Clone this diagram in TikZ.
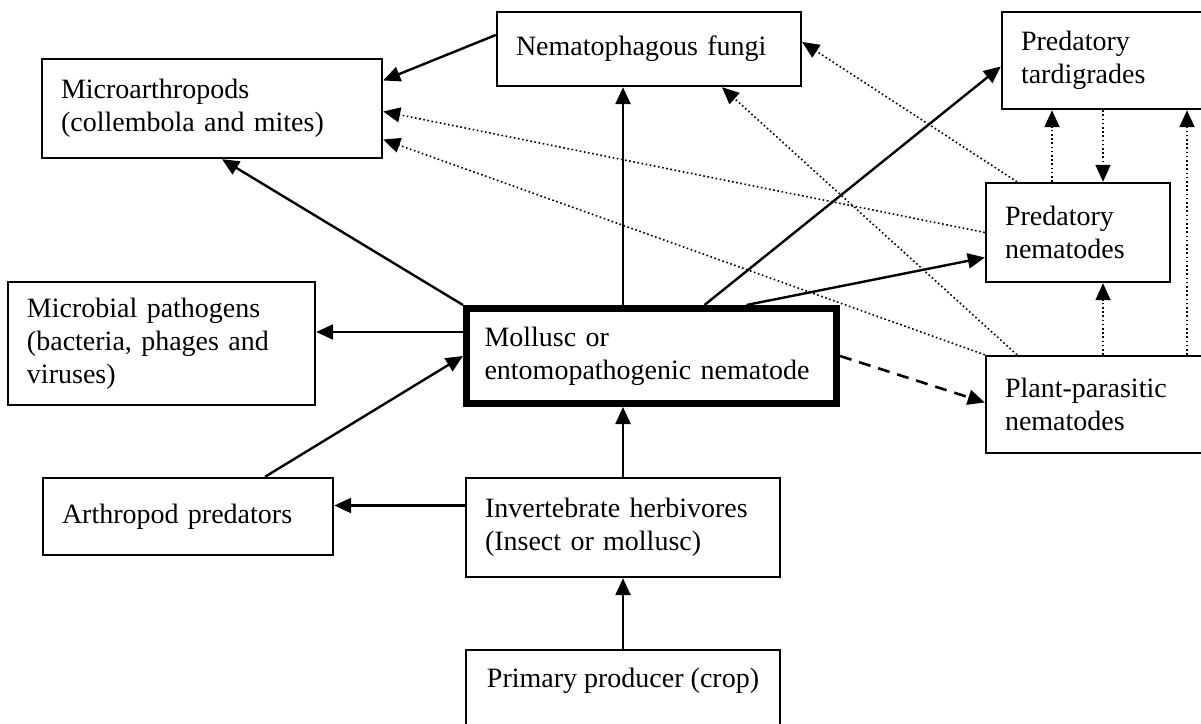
\documentclass[tikz,border=0pt]{standalone}
\usepackage{fontspec}
\setmainfont{Liberation Serif}
\usetikzlibrary{arrows.meta, shapes, backgrounds}

\begin{document}
\begin{tikzpicture}[x=1pt, y=-1pt, background rectangle/.style={fill=white}, show background rectangle, inner frame sep=0pt,
  dotlink/.style={line width=1.6pt, dash pattern=on 1.6pt off 2.6pt},
  dashlink/.style={line width=2.6pt, dash pattern=on 12pt off 8pt}]
\useasboundingbox (0,0) rectangle (1201,723);
\begin{scope}[every node/.style={rectangle, draw=black, line width=2.4pt, align=left, inner xsep=19pt, inner ysep=0pt, font=\fontsize{28}{33}\selectfont}]
  \node[text width=266pt, minimum height=74pt] (fungi) at (649,49) {Nematophagous fungi};
  \node[text width=176pt, minimum height=97pt] (tardi) at (1109,60.5) {Predatory\\tardigrades};
  \node[text width=302pt, minimum height=99pt] (micro) at (212,108.5) {Microarthropods\\(collembola and mites)};
  \node[text width=146pt, minimum height=99pt] (prednem) at (1078,232.5) {Predatory\\nematodes};
  \node[text width=269pt, minimum height=123pt] (microbial) at (161.5,343.5) {Microbial pathogens\\(bacteria, phages and\\viruses)};
  \node[line width=7pt, text width=334pt, inner xsep=18pt, minimum height=95pt] (mollusc) at (651.5,356) {Mollusc or\\entomopathogenic nematode};
  \node[text width=192pt, minimum height=97pt] (plant) at (1101,404.5) {Plant-parasitic\\nematodes};
  \node[text width=252pt, minimum height=77pt] (arthro) at (188,516.5) {Arthropod predators};
  \node[text width=276pt, minimum height=99pt] (invert) at (623,527.5) {Invertebrate herbivores\\(Insect or mollusc)};
  \node[minimum width=314pt, minimum height=95pt, text depth=40pt] (primary) at (623,697.5) {Primary producer (crop)};
\end{scope}

\begin{scope}[>={Triangle[length=17pt, width=15pt]},
              every edge/.style={draw=black, line width=2.4pt}]
    \path[->] ([yshift=14pt]fungi.west) edge ([yshift=28pt]micro.east);
    \path[->] (mollusc.north -| invert.north) edge (fungi.south -| invert.north);
    \path[->] (mollusc.north west) edge ([xshift=10pt]micro.south);
    \path[->] ([xshift=53pt]mollusc.north) edge ([yshift=-6pt]tardi.west);
    \path[->] ([xshift=95pt]mollusc.north) edge ([yshift=-25pt]prednem.west);
    \path[->] ([yshift=24pt]mollusc.west) edge ([yshift=24pt]mollusc.west -| microbial.east);
    \path[->] ([xshift=77pt]arthro.north) edge (mollusc.west);
    \path[->] ([yshift=22pt]invert.west) edge ([yshift=22pt]invert.west -| arthro.east);
    \path[->] (invert.north) edge (invert.north |- mollusc.south);
    \path[->] (primary.north) edge (invert.south);
    \path[->] (mollusc.east) edge[dashlink] ([yshift=2pt]plant.west);
    \path[->] ([xshift=-61pt]prednem.north) edge[dotlink] ([yshift=7pt]fungi.east);
    \path[->] ([xshift=-84pt]plant.north) edge[dotlink] ([xshift=73pt]fungi.south);
    \path[->] (prednem.west) edge[dotlink] ([yshift=-3pt]micro.east);
    \path[->] (plant.north west) edge[dotlink] ([yshift=-31pt]micro.east);
    \path[->] ([xshift=-26pt]prednem.north) edge[dotlink] ([xshift=-26pt]prednem.north |- tardi.south);
    \path[->] ([xshift=25pt]prednem.north |- tardi.south) edge[dotlink] ([xshift=25pt]prednem.north);
    \path[->] ([xshift=25pt]prednem.south |- plant.north) edge[dotlink] ([xshift=25pt]prednem.south);
    \path[->] ([xshift=86pt]plant.north) edge[dotlink] ([xshift=86pt]plant.north |- tardi.south);
\end{scope}
\end{tikzpicture}
\end{document}
